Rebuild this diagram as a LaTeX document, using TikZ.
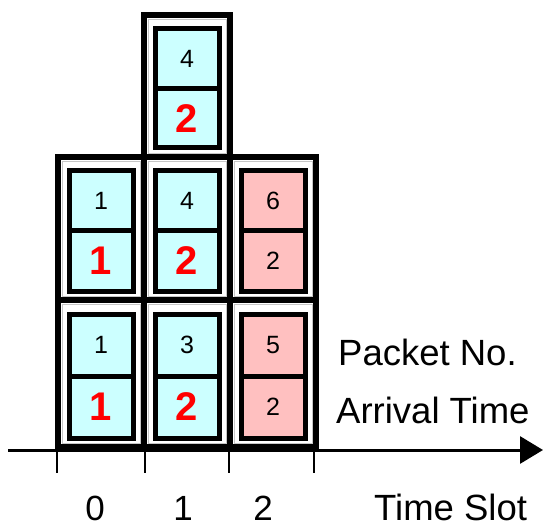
\documentclass[tikz,border=0pt]{standalone}
\usepackage{fontspec}
\setmainfont{Liberation Sans}
\usetikzlibrary{arrows.meta}
\definecolor{cellcyan}{RGB}{204,255,255}
\definecolor{cellpink}{RGB}{255,192,192}
\definecolor{numred}{RGB}{255,0,0}
\tikzset{
  outerbox/.style={draw=black, line width=6pt, fill=white},
  gapline/.style={draw=gray!45, line width=0.6pt},
  innerbox/.style={draw=black, line width=5pt},
  divline/.style={draw=black, line width=5pt},
  smallnum/.style={font=\fontsize{25}{28}\selectfont, text=black},
  bignum/.style={font=\fontsize{40}{44}\selectfont\bfseries, text=numred},
  lbl/.style={font=\fontsize{36.5}{42}\selectfont, anchor=base west, inner sep=0pt},
  slotlbl/.style={font=\fontsize{35}{42}\selectfont, anchor=base, inner sep=0pt},
  tickline/.style={line width=1.5pt},
}
\newcommand\pkt[8]{% name, left, top, bottom, fill, top num, bottom num, bottom style
  \draw[outerbox] (#2,#3) rectangle ({#2+86},#4);
  \draw[gapline] ({#2+4},{#3+4}) rectangle ({#2+82},{#4-4});
  \coordinate (#1tl) at ({#2+11},{#3+14});
  \coordinate (#1br) at ({#2+75},{#4-9});
  \coordinate (#1ml) at ({#2+11},{(#3+14+#4-9)/2});
  \coordinate (#1mr) at ({#2+75},{(#3+14+#4-9)/2});
  \fill[#5] (#1tl) rectangle (#1br);
  \draw[innerbox] (#1tl) rectangle (#1br);
  \draw[divline] (#1ml) -- (#1mr);
  \node[smallnum] (#1a) at ({#2+43},{(#3+14+(#3+14+#4-9)/2)/2}) {#6};
  \node[#8] (#1b) at ({#2+43},{(#4-9+(#3+14+#4-9)/2)/2}) {#7};
}
\begin{document}
\begin{tikzpicture}[x=1pt,y=-1pt]
\useasboundingbox (0,0) rectangle (543,529);
% top row
\pkt{p7}{144}{15}{157}{cellcyan}{4}{2}{bignum}
% middle row
\pkt{p4}{58}{157}{300}{cellcyan}{1}{1}{bignum}
\pkt{p5}{144}{157}{300}{cellcyan}{4}{2}{bignum}
\pkt{p6}{230}{157}{300}{cellpink}{6}{2}{smallnum}
% bottom row
\pkt{p1}{58}{300}{447}{cellcyan}{1}{1}{bignum}
\pkt{p2}{144}{300}{447}{cellcyan}{3}{2}{bignum}
\pkt{p3}{230}{300}{447}{cellpink}{5}{2}{smallnum}
% axis
\coordinate (ax0) at (8,450);
\coordinate (ax1) at (543,450);
\draw[line width=3pt, -{Triangle[length=23pt,width=27pt]}] (ax0) -- (ax1);
\foreach \x/\n in {57/t0,145/t1,229/t2,314/t3}{
  \coordinate (\n a) at (\x,450);
  \coordinate (\n b) at (\x,473);
  \draw[tickline] (\n a) -- (\n b);
}
% labels
\node[lbl] (pn) at (338,365) {Packet No.};
\node[lbl] (at) at (336,423) {Arrival Time};
\node[lbl] (ts) at (374,520) {Time Slot};
\node[slotlbl] (s0) at (95,520) {0};
\node[slotlbl] (s1) at (183,520) {1};
\node[slotlbl] (s2) at (263,520) {2};
\end{tikzpicture}
\end{document}
